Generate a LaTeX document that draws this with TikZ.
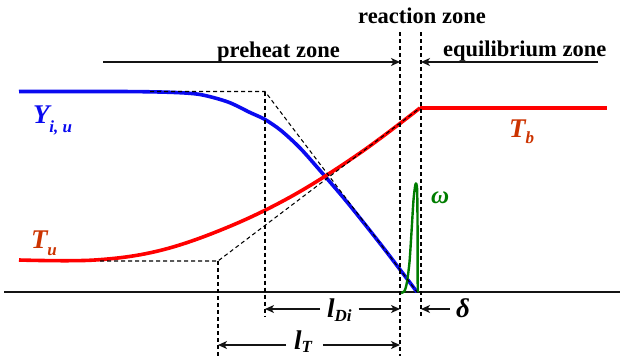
\documentclass[tikz,border=0pt]{standalone}
\usepackage{fontspec}
\setmainfont{Liberation Serif}
\newfontfamily\timesfam{Liberation Serif}[BoldFont={* Bold}, BoldItalicFont={* Bold Italic}, ItalicFont={* Italic}]
\usetikzlibrary{arrows.meta}
\definecolor{ycol}{RGB}{10,10,240}
\definecolor{tcol}{RGB}{204,51,0}
\definecolor{tline}{RGB}{255,0,0}
\definecolor{gcol}{RGB}{0,125,0}
\definecolor{ink}{RGB}{20,20,20}
\newcommand{\zonefont}{\timesfam\fontsize{22.5}{24}\selectfont\bfseries}
\newcommand{\lblfont}{\timesfam\fontsize{27}{28}\selectfont\bfseries\itshape}
\newcommand{\sublblfont}{\timesfam\fontsize{17}{18}\selectfont\bfseries\itshape}
\newcommand{\omegafont}{\timesfam\fontsize{25}{26}\selectfont\bfseries\itshape}
\tikzset{
  txt/.style={inner sep=0pt, outer sep=0pt},
  zonelbl/.style={txt, font=\zonefont, anchor=base, text=black},
  symlbl/.style={txt, font=\lblfont, anchor=base west},
  dashln/.style={dash pattern=on 4pt off 3pt, line width=1.05pt, black},
  arrowln/.style={-{Stealth[length=9pt,width=8pt,inset=2.5pt]}, line width=1.3pt, ink},
  ycurve/.style={line width=3.6pt, ycol, line join=round},
  tcurve/.style={line width=3.6pt, tline, line join=round},
  wcurve/.style={line width=2.4pt, gcol, line join=round},
  axisln/.style={line width=1.3pt, ink}
}
\begin{document}
\begin{tikzpicture}[x=1pt,y=-1pt]
\useasboundingbox (0,0) rectangle (620,356);

% axis
\coordinate (axL) at (4,292);
\coordinate (axR) at (620,292);
\draw[axisln] (axL) -- (axR);

% curves
\draw[ycurve] plot[smooth, tension=0.5] coordinates {
  (19,91.5) (120,91.5) (170,92.3) (200,94.5) (228,102) (250,112.5) (265,119.5)
  (281,130.5) (300,148) (320,170.5) (347,202) (382,246) (417,292)};
\draw[tcurve] plot[smooth, tension=0.6] coordinates {
  (19,260) (95,260) (160,250.5) (227,227.5) (293,195.5) (360,153) (420,108)};
\coordinate (tbA) at (420,108);
\coordinate (tbB) at (607,108);
\draw[tcurve] (tbA) -- (tbB);
\draw[wcurve] plot[smooth, tension=0.45] coordinates {
  (401,293) (404.5,291) (407,282) (409.5,262) (411.5,232) (413.5,200)
  (415.3,185) (416.4,184) (417.2,192) (417.6,235) (417.7,292)};

% dashed construction lines
\coordinate (yd0) at (150,91.5);
\coordinate (yd1) at (265,91.5);
\coordinate (yd2) at (417,292);
\coordinate (yd3) at (265,317);
\draw[dashln] (yd0) -- (yd1) -- (yd2);
\draw[dashln] (yd1) -- (yd3);
\coordinate (td0) at (100,261);
\coordinate (td1) at (218,261);
\coordinate (td2) at (420,108);
\coordinate (td3) at (218,356);
\draw[dashln] (td0) -- (td1) -- (td2);
\draw[dashln] (td1) -- (td3);
\coordinate (rzLt) at (400,32);
\coordinate (rzLb) at (400,356);
\coordinate (rzRt) at (421,32);
\coordinate (rzRb) at (421,317);
\draw[dashln] (rzLt) -- (rzLb);
\draw[dashln] (rzRt) -- (rzRb);

% zone labels and arrows
\node[zonelbl] (rz) at (422,23) {reaction zone};
\node[zonelbl] (ph) at (278.5,57) {preheat zone};
\node[zonelbl] (eq) at (524.7,56) {equilibrium zone};
\coordinate (phS) at (103,62);
\coordinate (phE) at (400,62);
\draw[arrowln] (phS) -- (phE);
\coordinate (eqS) at (598,62);
\coordinate (eqE) at (421,62);
\draw[arrowln] (eqS) -- (eqE);

% curve labels
\node[symlbl, text=ycol] (Ylbl) at (33,123) {Y\raisebox{-9.5pt}{\sublblfont i, u}};
\node[symlbl, text=tcol] (Tulbl) at (31,248) {T\raisebox{-7pt}{\sublblfont u}};
\node[symlbl, text=tcol] (Tblbl) at (509,137) {T\raisebox{-6pt}{\sublblfont b}};
\node[txt, font=\omegafont, text=gcol, anchor=base west] (wlbl) at (431,203) {ω};

% dimension arrows
\node[symlbl, text=black] (lDi) at (327,317) {l\raisebox{-4pt}{\sublblfont Di}};
\coordinate (lDiL) at (265,309);
\coordinate (lDiR) at (400,309);
\draw[arrowln] (lDi.west |- lDiL) ++(-7,0) coordinate (lDiLs) -- (lDiL);
\draw[arrowln] (lDi.east |- lDiR) ++(7,0) coordinate (lDiRs) -- (lDiR);
\node[symlbl, text=black] (lT) at (294,349) {l\raisebox{-3pt}{\sublblfont T}};
\coordinate (lTL) at (218,345);
\coordinate (lTR) at (400,345);
\draw[arrowln] (lT.west |- lTL) ++(-8,0) coordinate (lTLs) -- (lTL);
\draw[arrowln] (lT.east |- lTR) ++(11,0) coordinate (lTRs) -- (lTR);
\node[symlbl, text=black] (dlt) at (456,317) {δ};
\coordinate (dltE) at (421,309);
\draw[arrowln] (dlt.west |- dltE) ++(-6,0) coordinate (dltS) -- (dltE);
\end{tikzpicture}
\end{document}
